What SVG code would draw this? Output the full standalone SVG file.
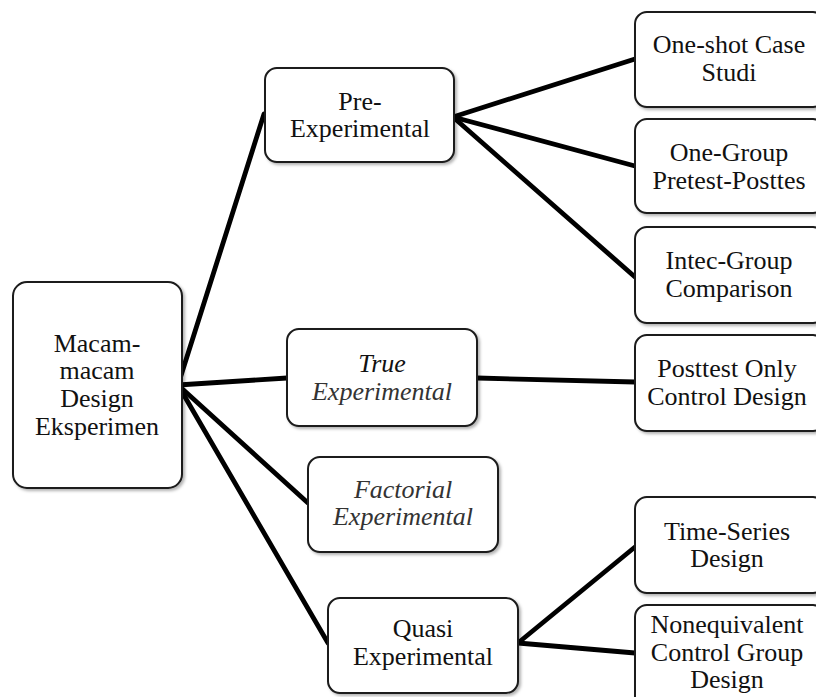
<svg xmlns="http://www.w3.org/2000/svg" width="816" height="697" viewBox="0 0 816 697">
<defs>
<filter id="sh" x="-10%" y="-10%" width="130%" height="130%">
<feDropShadow dx="2" dy="2" stdDeviation="1.5" flood-color="#000" flood-opacity="0.3"/>
</filter>
<style>
.box{fill:#fff;stroke:#1a1a1a;stroke-width:2;filter:url(#sh)}
.t{font-size:26px;fill:#111;text-anchor:middle}
.i{font-style:italic;fill:#333}
.c{stroke:#000;stroke-width:4.8;fill:none;stroke-linecap:round}
</style>
</defs>
<rect width="816" height="697" fill="#fff"/>
<g id="connectors">
<line class="c" x1="178" y1="385" x2="264" y2="114"/>
<line class="c" x1="178" y1="385" x2="287" y2="378"/>
<line class="c" x1="178" y1="385" x2="308" y2="503"/>
<line class="c" x1="178" y1="385" x2="328" y2="643"/>
<line class="c" x1="453" y1="117" x2="635" y2="59"/>
<line class="c" x1="453" y1="117" x2="635" y2="166"/>
<line class="c" x1="453" y1="117" x2="635" y2="277"/>
<line class="c" x1="477" y1="378" x2="635" y2="382"/>
<line class="c" x1="518" y1="643" x2="635" y2="547"/>
<line class="c" x1="518" y1="643" x2="635" y2="653"/>
</g>
<g font-family="Liberation Serif, DejaVu Serif, serif">
<g id="root">
<rect class="box" x="13" y="282" width="169" height="206" rx="14"/>
<text class="t" x="97" y="352">Macam-</text>
<text class="t" x="97" y="379">macam</text>
<text class="t" x="97" y="407">Design</text>
<text class="t" x="97" y="435">Eksperimen</text>
</g>
<g id="pre">
<rect class="box" x="265" y="68" width="189" height="94" rx="12"/>
<text class="t" x="360" y="110">Pre-</text>
<text class="t" x="360" y="137">Experimental</text>
</g>
<g id="true">
<rect class="box" x="287" y="329" width="190" height="97" rx="12"/>
<text class="t" x="382" y="372" font-style="italic">True</text>
<text class="t i" x="382" y="400">Experimental</text>
</g>
<g id="factorial">
<rect class="box" x="308" y="457" width="190" height="95" rx="12"/>
<text class="t i" x="403" y="498">Factorial</text>
<text class="t i" x="403" y="525">Experimental</text>
</g>
<g id="quasi">
<rect class="box" x="328" y="598" width="190" height="95" rx="12"/>
<text class="t" x="423" y="637">Quasi</text>
<text class="t" x="423" y="665">Experimental</text>
</g>
<g id="oneshot">
<rect class="box" x="635" y="12" width="190" height="95" rx="12"/>
<text class="t" x="729" y="53">One-shot Case</text>
<text class="t" x="729" y="81">Studi</text>
</g>
<g id="onegroup">
<rect class="box" x="635" y="119" width="190" height="94" rx="12"/>
<text class="t" x="729" y="161">One-Group</text>
<text class="t" x="729" y="189">Pretest-Posttes</text>
</g>
<g id="intec">
<rect class="box" x="635" y="227" width="190" height="96" rx="12"/>
<text class="t" x="729" y="269">Intec-Group</text>
<text class="t" x="729" y="297">Comparison</text>
</g>
<g id="posttest">
<rect class="box" x="635" y="335" width="190" height="96" rx="12"/>
<text class="t" x="727" y="377">Posttest Only</text>
<text class="t" x="727" y="405">Control Design</text>
</g>
<g id="timeseries">
<rect class="box" x="635" y="497" width="190" height="96" rx="12"/>
<text class="t" x="727" y="540">Time-Series</text>
<text class="t" x="727" y="567">Design</text>
</g>
<g id="nonequivalent">
<rect class="box" x="635" y="605" width="190" height="110" rx="12"/>
<text class="t" x="727" y="633">Nonequivalent</text>
<text class="t" x="727" y="661">Control Group</text>
<text class="t" x="727" y="688">Design</text>
</g>
</g>
</svg>
